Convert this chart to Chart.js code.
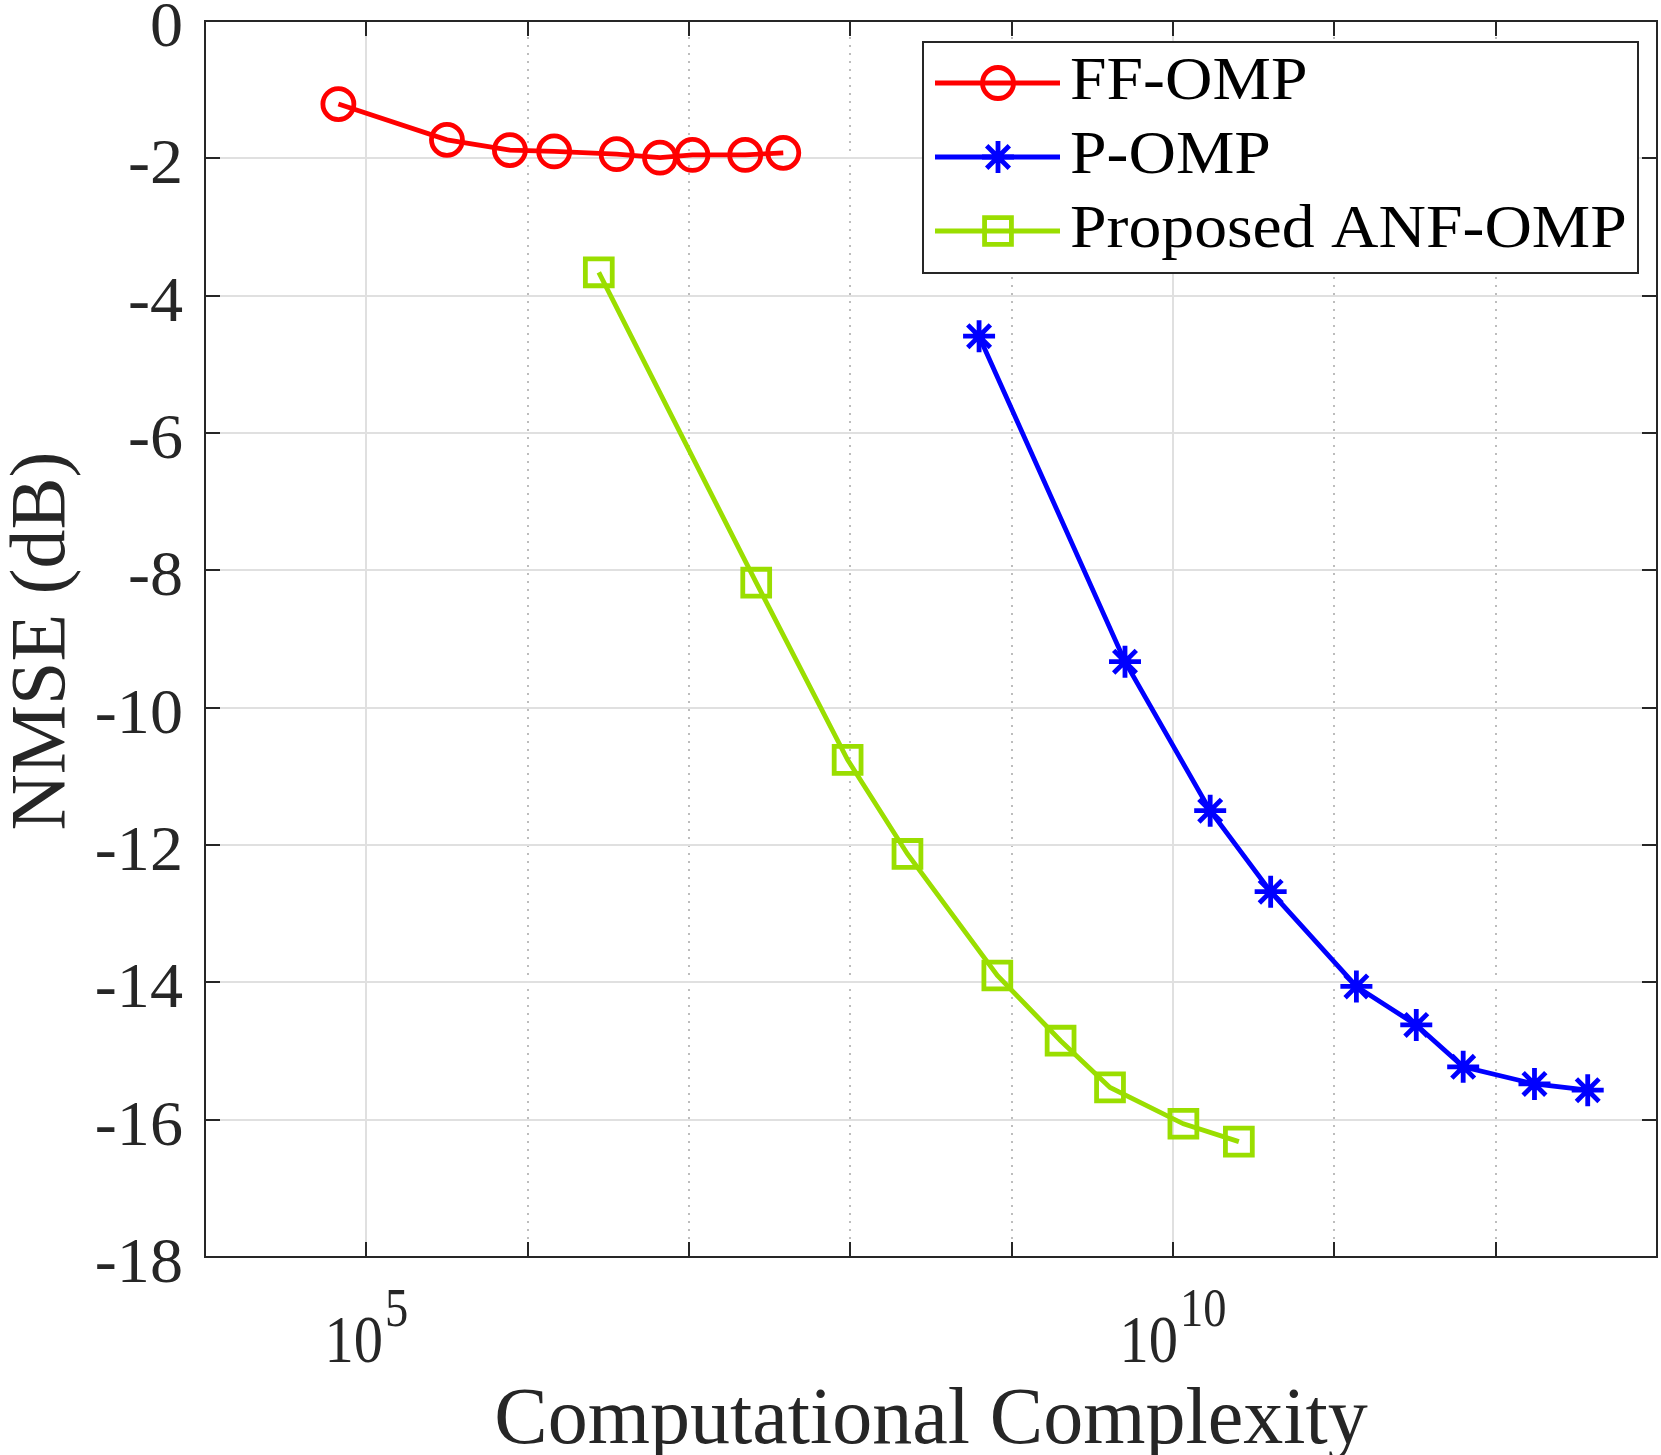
<!DOCTYPE html>
<html>
<head>
<meta charset="utf-8">
<title>NMSE x Computational Complexity</title>
<script src="https://cdn.jsdelivr.net/npm/chart.js@4.4.0/dist/chart.umd.min.js"></script>
<style>
  html, body { margin: 0; padding: 0; background: #fff; }
  #grafico { display: block; }
</style>
</head>
<body>
<canvas id="grafico" width="1661" height="1455"></canvas>
<script>
// Dados

var seriesNames = ['FF-OMP', 'P-OMP', 'Proposed ANF-OMP'];

var ffOmpX = [6.71e4, 3.16e5, 7.76e5, 1.46e6, 3.56e6, 6.61e6, 1.05e7, 2.23e7, 3.84e7];
var ffOmpY = [-1.21, -1.73, -1.88, -1.90, -1.94, -1.99, -1.95, -1.95, -1.92];

var pOmpX = [6.28e8, 5.04e9, 1.70e10, 4.03e10, 1.37e11, 3.22e11, 6.29e11, 1.74e12, 3.72e12];
var pOmpY = [-4.59, -9.33, -11.50, -12.68, -14.06, -14.62, -15.23, -15.48, -15.57];

var anfOmpX = [2.76e6, 2.61e7, 9.62e7, 2.26e8, 8.15e8, 2.01e9, 4.07e9, 1.16e10, 2.56e10];
var anfOmpY = [-3.66, -8.18, -10.76, -12.13, -13.90, -14.85, -15.53, -16.06, -16.32];

var xTickExps = [4, 5, 6, 7, 8, 9, 10, 11, 12, 13];
var xLabelExps = [5, 10];
var yTicks = [0, -2, -4, -6, -8, -10, -12, -14, -16, -18];

var xTitle = 'Computational Complexity';
var yTitle = 'NMSE (dB)';

// Estilo

var serif = '"Liberation Serif", "Times New Roman", serif';
var corEixo = '#262626';
var cores = ['#ff0000', '#0000ff', '#9ade00'];
var espessura = 4.8;
var marcadores = [
  { pointStyle: 'circle', radius: 15.5 },
  { pointStyle: 'star', radius: 16 },
  { pointStyle: 'rect', radius: 19 }
];

function pontos(xs, ys) {
  return xs.map(function (x, i) { return { x: x, y: ys[i] }; });
}

function serie(i, xs, ys) {
  return {
    label: seriesNames[i],
    data: pontos(xs, ys),
    borderColor: cores[i],
    backgroundColor: 'rgba(0,0,0,0)',
    borderWidth: espessura,
    tension: 0,
    fill: false,
    pointStyle: marcadores[i].pointStyle,
    pointRadius: marcadores[i].radius,
    pointHoverRadius: marcadores[i].radius,
    pointBorderWidth: espessura,
    pointBorderColor: cores[i],
    pointBackgroundColor: 'rgba(0,0,0,0)'
  };
}

function ehMaior(valor) {
  var e = Math.round(Math.log10(valor));
  return xLabelExps.indexOf(e) >= 0;
}

// texto com largura ajustada (a fonte original é mais larga ou mais estreita)
function texto(ctx, s, x, y, tamanho, esc, alinhamento) {
  ctx.save();
  ctx.font = tamanho + 'px ' + serif;
  var w = ctx.measureText(s).width * esc;
  var x0 = x;
  if (alinhamento === 'right') x0 = x - w;
  if (alinhamento === 'center') x0 = x - w / 2;
  ctx.translate(x0, y);
  ctx.scale(esc, 1);
  ctx.textAlign = 'left';
  ctx.fillText(s, 0, 0);
  ctx.restore();
  return w;
}

function largura(ctx, s, tamanho, esc) {
  ctx.save();
  ctx.font = tamanho + 'px ' + serif;
  var w = ctx.measureText(s).width * esc;
  ctx.restore();
  return w;
}

// Eixos, rótulos e legenda no estilo do MATLAB

var eixosPlugin = {
  id: 'eixosMatlab',
  afterDraw: function (chart) {
    var ctx = chart.ctx;
    var area = chart.chartArea;
    var sx = chart.scales.x;
    var sy = chart.scales.y;
    var tick = 15;

    ctx.save();
    ctx.strokeStyle = corEixo;
    ctx.lineWidth = 2;
    ctx.textBaseline = 'alphabetic';

    // marcas para dentro
    ctx.beginPath();
    xTickExps.forEach(function (e) {
      var px = Math.round(sx.getPixelForValue(Math.pow(10, e)));
      ctx.moveTo(px, area.bottom); ctx.lineTo(px, area.bottom - tick);
      ctx.moveTo(px, area.top); ctx.lineTo(px, area.top + tick);
    });
    yTicks.forEach(function (v) {
      var py = Math.round(sy.getPixelForValue(v));
      ctx.moveTo(area.left, py); ctx.lineTo(area.left + tick, py);
      ctx.moveTo(area.right, py); ctx.lineTo(area.right - tick, py);
    });
    ctx.stroke();

    // caixa
    ctx.strokeRect(area.left, area.top, area.right - area.left, area.bottom - area.top);

    // rótulos do eixo y
    ctx.fillStyle = corEixo;
    yTicks.forEach(function (v) {
      var py = sy.getPixelForValue(v);
      texto(ctx, String(v), area.left - 22, py + 25, 63, 1.05, 'right');
    });

    // rótulos do eixo x (10 com expoente)
    xLabelExps.forEach(function (e) {
      var px = sx.getPixelForValue(Math.pow(10, e));
      var wBase = largura(ctx, '10', 68, 0.86);
      var wExp = largura(ctx, String(e), 54, 0.86);
      var x0 = px - (wBase + 2 + wExp) / 2;
      texto(ctx, '10', x0, area.bottom + 105, 68, 0.86, 'left');
      texto(ctx, String(e), x0 + wBase + 2, area.bottom + 69, 54, 0.86, 'left');
    });

    // títulos
    texto(ctx, xTitle, (area.left + area.right) / 2, area.bottom + 186, 80, 1, 'center');

    ctx.save();
    ctx.translate(64, (area.top + area.bottom) / 2 + 2);
    ctx.rotate(-Math.PI / 2);
    texto(ctx, yTitle, 0, 0, 78, 1, 'center');
    ctx.restore();

    // legenda
    var lx = area.right - 734;
    var ly = area.top + 21;
    var lw = 715;
    var lh = 231;
    ctx.fillStyle = '#ffffff';
    ctx.fillRect(lx, ly, lw, lh);
    ctx.strokeStyle = corEixo;
    ctx.lineWidth = 2;
    ctx.strokeRect(lx, ly, lw, lh);

    chart.data.datasets.forEach(function (ds, i) {
      var ry = ly + 41 + i * 74;
      ctx.strokeStyle = ds.borderColor;
      ctx.lineWidth = espessura;
      ctx.beginPath();
      ctx.moveTo(lx + 12, ry);
      ctx.lineTo(lx + 137, ry);
      ctx.stroke();
      ctx.fillStyle = 'rgba(0,0,0,0)';
      Chart.helpers.drawPoint(ctx, {
        pointStyle: ds.pointStyle,
        radius: ds.pointRadius,
        borderWidth: espessura,
        rotation: 0
      }, lx + 75, ry);

      ctx.fillStyle = '#000000';
      texto(ctx, ds.label, lx + 147, ry + 16, 62, 1.06, 'left');
    });

    ctx.restore();
  }
};

// Gráfico

var config = {
  type: 'line',
  data: {
    datasets: [
      serie(0, ffOmpX, ffOmpY),
      serie(1, pOmpX, pOmpY),
      serie(2, anfOmpX, anfOmpY)
    ]
  },
  options: {
    responsive: false,
    animation: false,
    layout: {
      autoPadding: false,
      padding: { left: 205, top: 21, right: 4, bottom: 198 }
    },
    plugins: {
      legend: { display: false },
      tooltip: { enabled: false }
    },
    scales: {
      x: {
        type: 'logarithmic',
        min: 1e4,
        max: 1e13,
        afterBuildTicks: function (axis) {
          axis.ticks = xTickExps.map(function (e) { return { value: Math.pow(10, e) }; });
        },
        ticks: { display: false },
        grid: {
          drawTicks: false,
          lineWidth: 2,
          color: function (c) {
            return ehMaior(c.tick.value) ? '#e0e0e0' : '#bdbdbd';
          }
        },
        border: {
          display: false,
          dash: function (c) {
            return ehMaior(c.tick.value) ? [] : [2, 6];
          }
        }
      },
      y: {
        type: 'linear',
        min: -18,
        max: 0,
        ticks: { display: false, stepSize: 2 },
        grid: { drawTicks: false, lineWidth: 2, color: '#e0e0e0' },
        border: { display: false }
      }
    }
  },
  plugins: [eixosPlugin]
};

var ctxGrafico = document.getElementById('grafico').getContext('2d');
var meuGrafico = new Chart(ctxGrafico, config);
</script>
</body>
</html>
